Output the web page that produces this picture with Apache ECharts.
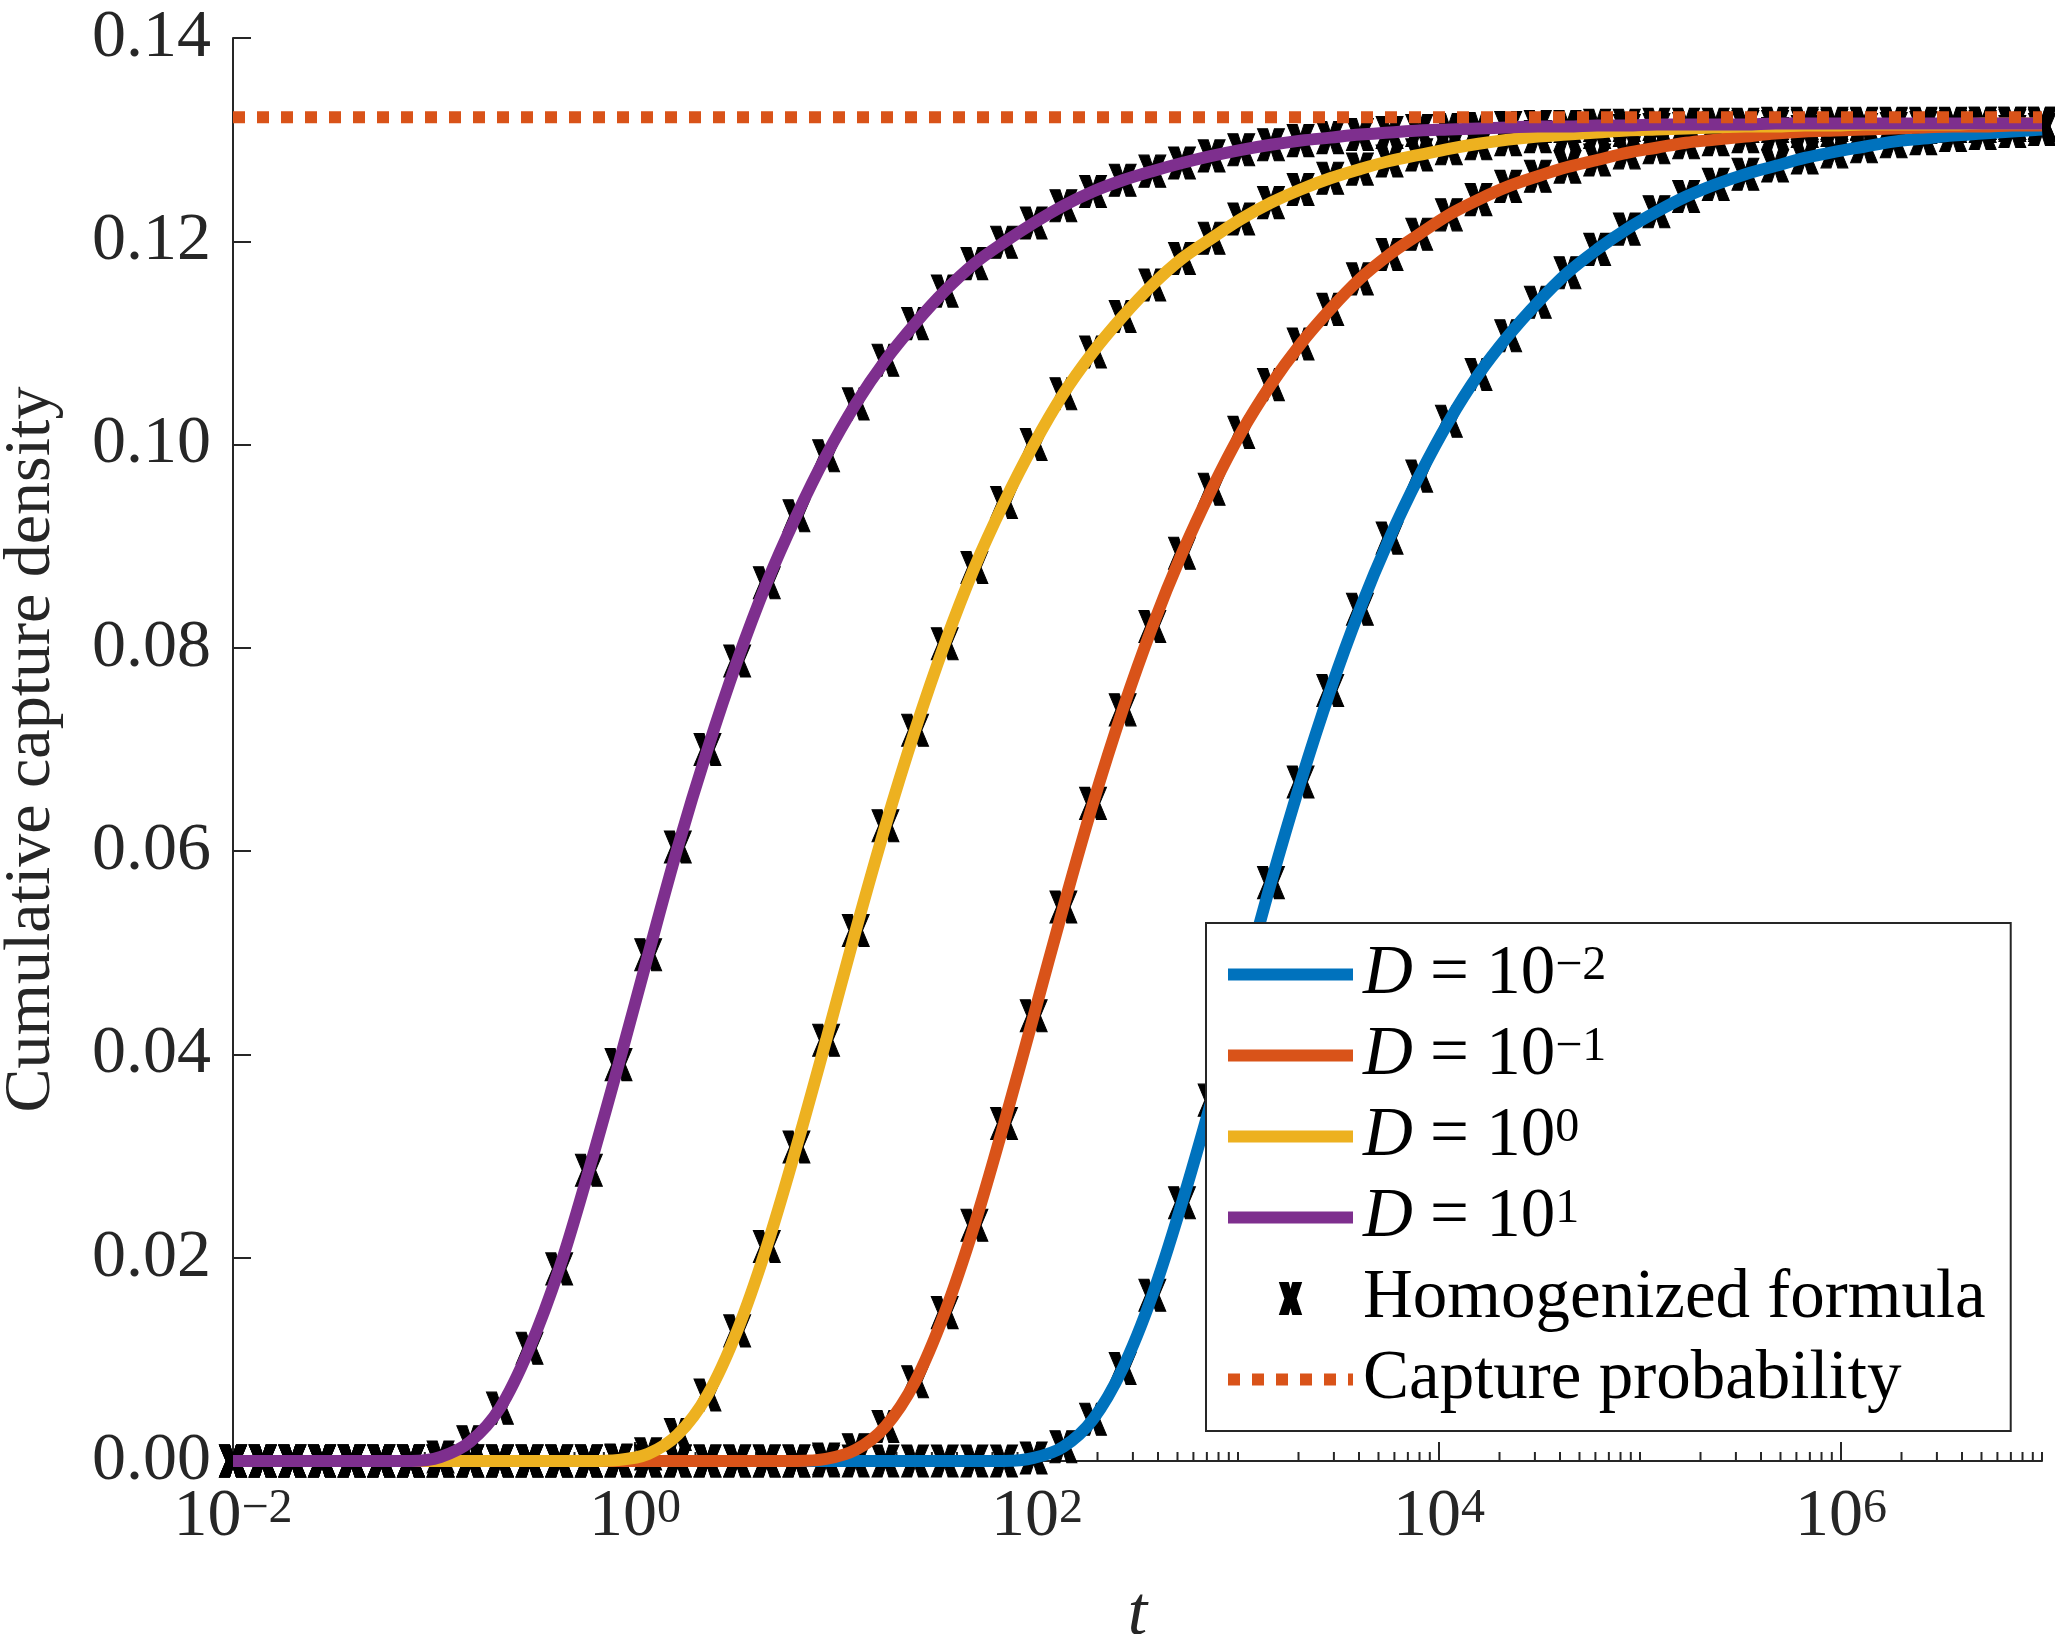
<!DOCTYPE html>
<html>
<head>
<meta charset="utf-8">
<title>Cumulative capture density</title>
<script src="https://cdn.jsdelivr.net/npm/echarts@6/dist/echarts.min.js"></script>
<style>
  html, body { margin: 0; padding: 0; background: #fff; }
  #main { width: 2055px; height: 1634px; }
</style>
</head>
<body>
<div id="main"></div>
<script>
var myChart = echarts.init(document.getElementById('main'));

// times where the curves / homogenized formula were sampled
var tVals = [0.01, 0.01405, 0.01973, 0.02771, 0.03892, 0.05467, 0.07678, 0.1078, 0.1515, 0.2128,
  0.2988, 0.4197, 0.5895, 0.8280, 1.163, 1.633, 2.294, 3.223, 4.526, 6.357,
  8.929, 12.54, 17.62, 24.74, 34.75, 48.81, 68.56, 96.29, 135.3, 190.0,
  266.8, 374.8, 526.4, 739.3, 1038, 1459, 2049, 2877, 4041, 5677,
  7973, 11200, 15730, 22090, 31030, 43580, 61220, 85980, 120800, 169600,
  238200, 334600, 470000, 660200, 927200, 1302000, 1829000, 2569000, 3609000, 5069000,
  7119000, 10000000];

// D = 10^-2
var yD2 = [0, 0, 0, 0, 0, 0, 0, 0, 0, 0,
  0, 0, 0, 0, 0, 0, 0, 0, 0, 0,
  0, 0, 0, 0, 0, 0, 0, 0.0003, 0.0014, 0.0041,
  0.0091, 0.0163, 0.0254, 0.0355, 0.0462, 0.0569, 0.0668, 0.0758, 0.0838, 0.0908,
  0.0969, 0.1023, 0.1069, 0.1107, 0.1140, 0.1169, 0.1192, 0.1212, 0.1229, 0.1244,
  0.1256, 0.1266, 0.1274, 0.1282, 0.1288, 0.1293, 0.1298, 0.1301, 0.1304, 0.1306,
  0.1308, 0.1310];
// D = 10^-1
var yD1 = [0, 0, 0, 0, 0, 0, 0, 0, 0, 0,
  0, 0, 0, 0, 0, 0, 0, 0, 0, 0,
  0.0002, 0.0011, 0.0034, 0.0078, 0.0146, 0.0232, 0.0332, 0.0438, 0.0545, 0.0647,
  0.0739, 0.0821, 0.0893, 0.0956, 0.1012, 0.1059, 0.1099, 0.1133, 0.1163, 0.1187,
  0.1207, 0.1226, 0.1241, 0.1254, 0.1264, 0.1273, 0.1280, 0.1287, 0.1292, 0.1297,
  0.1300, 0.1303, 0.1306, 0.1308, 0.1309, 0.1310, 0.1311, 0.1312, 0.1313, 0.1313,
  0.1314, 0.1314];
// D = 10^0
var yD0 = [0, 0, 0, 0, 0, 0, 0, 0, 0, 0,
  0, 0, 0, 0.0001, 0.0007, 0.0026, 0.0065, 0.0128, 0.0211, 0.0309,
  0.0414, 0.0522, 0.0625, 0.0719, 0.0804, 0.0879, 0.0943, 0.1000, 0.1050, 0.1091,
  0.1126, 0.1157, 0.1183, 0.1203, 0.1222, 0.1238, 0.1251, 0.1262, 0.1271, 0.1279,
  0.1285, 0.1291, 0.1296, 0.1300, 0.1303, 0.1305, 0.1307, 0.1309, 0.1310, 0.1311,
  0.1312, 0.1313, 0.1313, 0.1314, 0.1314, 0.1315, 0.1315, 0.1315, 0.1315, 0.1316,
  0.1316, 0.1316];
// D = 10^1
var yD10 = [0, 0, 0, 0, 0, 0, 0, 0.0004, 0.0019, 0.0052,
  0.0111, 0.0189, 0.0286, 0.0390, 0.0498, 0.0604, 0.0700, 0.0787, 0.0864, 0.0930,
  0.0989, 0.1040, 0.1083, 0.1119, 0.1151, 0.1178, 0.1199, 0.1218, 0.1235, 0.1249,
  0.1260, 0.1269, 0.1277, 0.1284, 0.1290, 0.1295, 0.1299, 0.1302, 0.1305, 0.1307,
  0.1309, 0.1310, 0.1311, 0.1312, 0.1313, 0.1313, 0.1314, 0.1314, 0.1315, 0.1315,
  0.1315, 0.1315, 0.1316, 0.1316, 0.1316, 0.1316, 0.1316, 0.1316, 0.1316, 0.1316,
  0.1316, 0.1316];

var captureProb = 0.1322;

var curveNames = ['D = 10^-2', 'D = 10^-1', 'D = 10^0', 'D = 10^1'];
var curveSup = ['\u22122', '\u22121', '0', '1'];
var curveColors = ['#0072BD', '#D95319', '#EDB120', '#7E2F8E'];
var curveData = [yD2, yD1, yD0, yD10];

var xMin = 0.01, xMax = 1e7;
var xMajorExp = [-2, 0, 2, 4, 6];

var FONT = 'Liberation Serif';
var AXIS_COL = '#262626';
// bold "x" marker
var xPath = 'path://M0 0 L15 0 L20 19 L25 0 L40 0 L30 30 L40 60 L25 60 L20 41 L15 60 L0 60 L10 30 Z';

// log axis ticks: long + label at the labelled decades, short elsewhere
var xTicks = [];
for (var e = -2; e < 7; e++) {
  if (xMajorExp.indexOf(e) >= 0) xTicks.push({ v: Math.pow(10, e), len: 19, exp: e });
  for (var m = 2; m <= 10; m++) {
    var ex = (m === 10) ? e + 1 : e;
    if (m === 10 && xMajorExp.indexOf(ex) >= 0) continue;
    xTicks.push({ v: m * Math.pow(10, e), len: 9, exp: null });
  }
}

var series = [];
curveNames.forEach(function (name, i) {
  series.push({
    name: name,
    type: 'line',
    data: tVals.map(function (t, k) { return [t, curveData[i][k]]; }),
    showSymbol: false,
    symbol: 'none',
    smooth: 0.35,
    clip: false,
    silent: true,
    lineStyle: { color: curveColors[i], width: 12, cap: 'butt' },
    itemStyle: { color: curveColors[i] }
  });
});

var markerPts = [];
curveData.forEach(function (arr) {
  tVals.forEach(function (t, k) { markerPts.push([t, arr[k]]); });
});
series.push({
  name: 'Homogenized formula',
  type: 'scatter',
  data: markerPts,
  symbol: xPath,
  symbolSize: [27, 32],
  clip: false,
  silent: true,
  itemStyle: { color: '#000', opacity: 1, borderColor: '#000', borderWidth: 1 }
});

series.push({
  name: 'Capture probability',
  type: 'line',
  data: [[xMin, captureProb], [xMax, captureProb]],
  showSymbol: false,
  symbol: 'none',
  clip: false,
  silent: true,
  lineStyle: { color: '#D95319', width: 12, type: [12, 12], cap: 'butt' },
  itemStyle: { color: '#D95319' }
});

// x ticks and decade labels placed through the log axis
series.push({
  name: 'xticks',
  type: 'custom',
  data: xTicks.map(function (d) { return [d.v, 0]; }),
  silent: true,
  clip: false,
  z: 1,
  renderItem: function (params, api) {
    var d = xTicks[params.dataIndex];
    var p = api.coord([d.v, 0]);
    var children = [{
      type: 'line',
      shape: { x1: p[0], y1: p[1], x2: p[0], y2: p[1] - d.len },
      style: { stroke: AXIS_COL, lineWidth: 2 }
    }];
    if (d.exp !== null) {
      children.push({
        type: 'text',
        x: p[0],
        y: p[1] + 24,
        style: {
          text: '10{sup|' + (d.exp < 0 ? '\u2212' + (-d.exp) : d.exp) + '}',
          fontFamily: FONT,
          fontSize: 68,
          lineHeight: 64,
          fill: AXIS_COL,
          align: 'center',
          verticalAlign: 'top',
          rich: {
            sup: { fontFamily: FONT, fontSize: 48, lineHeight: 10, verticalAlign: 'top', fill: AXIS_COL }
          }
        }
      });
    }
    return { type: 'group', children: children };
  }
});

option = {
  animation: false,
  backgroundColor: '#fff',
  grid: { left: 233, right: 13, top: 38, bottom: 173, containLabel: false, outerBoundsMode: 'none' },
  xAxis: {
    type: 'log',
    logBase: 10,
    min: xMin,
    max: xMax,
    name: 't',
    nameLocation: 'middle',
    nameGap: 120,
    nameTextStyle: { fontFamily: FONT, fontStyle: 'italic', fontSize: 70, color: AXIS_COL },
    axisLine: { show: true, lineStyle: { color: AXIS_COL, width: 2 } },
    axisTick: { show: false },
    minorTick: { show: false },
    splitLine: { show: false },
    axisLabel: { show: false }
  },
  yAxis: {
    type: 'value',
    min: 0,
    max: 0.14,
    interval: 0.02,
    name: 'Cumulative capture density',
    nameLocation: 'middle',
    nameGap: 168,
    nameTextStyle: { fontFamily: FONT, fontSize: 66, color: AXIS_COL },
    axisLine: { show: true, lineStyle: { color: AXIS_COL, width: 2 } },
    axisTick: { show: true, inside: true, length: 18, lineStyle: { color: AXIS_COL, width: 2 } },
    splitLine: { show: false },
    axisLabel: {
      margin: 22,
      fontFamily: FONT,
      fontSize: 68,
      color: AXIS_COL,
      formatter: function (v) { return v.toFixed(2); }
    }
  },
  legend: {
    orient: 'vertical',
    left: 1206,
    top: 923,
    padding: [17, 25, 17, 16],
    itemWidth: 125,
    itemHeight: 31,
    itemGap: 12,
    backgroundColor: '#fff',
    borderColor: AXIS_COL,
    borderWidth: 2,
    borderRadius: 0,
    selectedMode: false,
    symbolKeepAspect: true,
    lineStyle: { width: 12 },
    textStyle: {
      fontFamily: FONT,
      fontSize: 69,
      lineHeight: 64,
      color: '#000',
      padding: [0, 0, 0, 5],
      rich: {
        it: { fontFamily: FONT, fontStyle: 'italic', fontSize: 69, lineHeight: 64, color: '#000' },
        sup: { fontFamily: FONT, fontSize: 48, lineHeight: 26, verticalAlign: 'top', color: '#000' }
      }
    },
    formatter: function (name) {
      var i = curveNames.indexOf(name);
      if (i < 0) return name;
      return '{it|D} = 10{sup|' + curveSup[i] + '}';
    },
    data: curveNames.map(function (n) { return { name: n, itemStyle: { opacity: 0 } }; }).concat([
      { name: 'Homogenized formula', icon: xPath, itemStyle: { color: '#000', opacity: 1 } },
      { name: 'Capture probability', itemStyle: { opacity: 0 } }
    ])
  },
  series: series
};

myChart.setOption(option);
</script>
</body>
</html>
